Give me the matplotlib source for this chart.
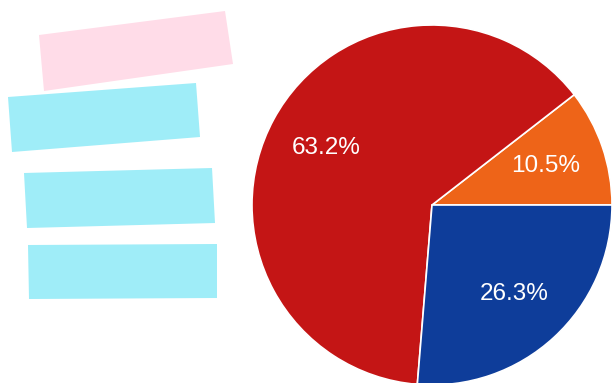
import matplotlib.pyplot as plt
from matplotlib.patches import Polygon

# Share of responses per category
labels = ["A", "B", "C"]
shares = [10.5, 63.2, 26.3]
colors = ["#EE6418", "#C41515", "#0E3D9A"]

# Blanked-out legend boxes (figure pixel corners, y measured from top)
box_colors = ["#FFDCE8", "#9FEDF8", "#9FEDF8", "#9FEDF8"]
box_corners = [
    [(39, 35), (225, 11), (233, 64), (44, 91)],
    [(8, 97), (196, 83), (200, 137), (12, 152)],
    [(24, 173), (212, 168), (215, 223), (27, 228)],
    [(28, 245), (217, 244), (217, 298), (29, 299)],
]

W, H = 614, 383
fig = plt.figure(figsize=(W / 100, H / 100), dpi=100)

for corners, c in zip(box_corners, box_colors):
    pts = [(x / W, 1 - y / H) for x, y in corners]
    fig.patches.append(Polygon(pts, closed=True, facecolor=c, edgecolor="none",
                               transform=fig.transFigure))

# Pie axes: centre (432, 205) px, radius 180 px
r = 180
cx, cy = 432, 205
ax = fig.add_axes([(cx - r) / W, 1 - (cy + r) / H, 2 * r / W, 2 * r / H])
wedges, texts, autotexts = ax.pie(
    shares, colors=colors, startangle=0, counterclock=True,
    autopct="%.1f%%", pctdistance=0.67,
    wedgeprops=dict(edgecolor="white", linewidth=1.2),
    textprops=dict(color="white", fontsize=17.5, family="Liberation Sans"),
)
ax.set_xlim(-1, 1)
ax.set_ylim(-1, 1)
ax.set_aspect("equal")
ax.axis("off")
for w in wedges:
    w.set_clip_on(False)

fig.savefig("out.png", dpi=100)
